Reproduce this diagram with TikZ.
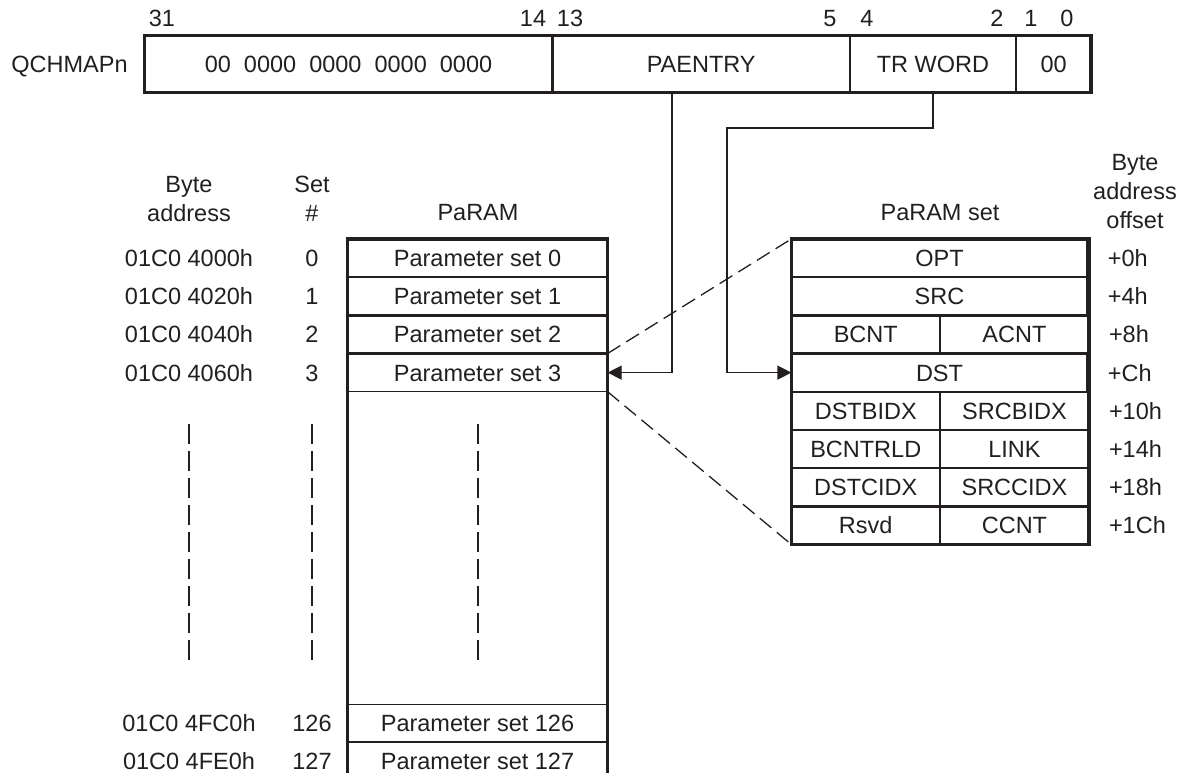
\documentclass[tikz,border=0pt]{standalone}
\usepackage{fontspec}
\setmainfont{Liberation Sans}
\usepackage{xcolor}
\definecolor{ink}{RGB}{35,31,32}
\usepackage{tikz}
\usetikzlibrary{positioning,arrows.meta}

\begin{document}
\begin{tikzpicture}[x=1pt, y=-1pt, ink,
  lbl/.style={font=\fontsize{23.5pt}{29pt}\selectfont, inner sep=0pt, text height=16.8pt, text depth=0pt},
  head/.style={font=\fontsize{23.5pt}{29pt}\selectfont, inner sep=0pt, align=center, anchor=south},
  cell/.style={lbl, draw, line width=1.2pt, minimum height=37pt},
  border/.style={line width=3.5pt},
  conn/.style={line width=1.2pt, -{Triangle[length=14pt, width=14pt]}},
  dashline/.style={line width=1.3pt, dash pattern=on 15pt off 7pt},
  vdash/.style={line width=1.5pt, dash pattern=on 20pt off 7pt}]
\useasboundingbox (0,0) rectangle (1183,772);

% register
\node[lbl] (qname) at (69.5,64) {QCHMAPn};
\node[cell, minimum width=407pt, minimum height=56pt] (zeros) at (348.5,64) {00\ \ 0000\ \ 0000\ \ 0000\ \ 0000};
\node[cell, minimum width=296pt, minimum height=56pt, right=0pt of zeros] (paentry) {PAENTRY};
\node[cell, minimum width=165pt, minimum height=56pt, right=0pt of paentry] (trword) {TR WORD};
\node[cell, minimum width=74pt, minimum height=56pt, right=0pt of trword] (low) {00};
\draw[border] (zeros.north west) rectangle (low.south east);

\node[head] (b31) at (162,26.5) {31};
\node[head] (b14) at (533,26.5) {14};
\node[head] (b13) at (570,26.5) {13};
\node[head] (b5) at (830,26.5) {5};
\node[head] (b4) at (867,26.5) {4};
\node[head] (b2) at (997,26.5) {2};
\node[head] (b1) at (1031,26.5) {1};
\node[head] (b0) at (1067,26.5) {0};

% PaRAM
\node[head] (hbyte) at (189,221.5) {Byte\\address};
\node[head] (hset) at (312,221.5) {Set\\\#};
\node[head] (hparam) at (478,220.5) {PaRAM};

\node[cell, minimum width=259pt] (ps0) at (477.5,258) {Parameter set 0};
\node[cell, minimum width=259pt, below=0pt of ps0] (ps1) {Parameter set 1};
\node[cell, minimum width=259pt, below=0pt of ps1] (ps2) {Parameter set 2};
\node[cell, minimum width=259pt, below=0pt of ps2] (ps3) {Parameter set 3};
\node[cell, minimum width=259pt] (ps126) at (477.5,723) {Parameter set 126};
\node[cell, minimum width=259pt, below=0pt of ps126] (ps127) {Parameter set 127};
\draw[border] (ps127.south west) |- (ps0.north east) -- (ps127.south east);

\node[lbl] (a0) at (189,0 |- ps0) {01C0 4000h};
\node[lbl] (a1) at (189,0 |- ps1) {01C0 4020h};
\node[lbl] (a2) at (189,0 |- ps2) {01C0 4040h};
\node[lbl] (a3) at (189,0 |- ps3) {01C0 4060h};
\node[lbl] (a126) at (189,0 |- ps126) {01C0 4FC0h};
\node[lbl] (a127) at (189,0 |- ps127) {01C0 4FE0h};
\node[lbl] (n0) at (312,0 |- ps0) {0};
\node[lbl] (n1) at (312,0 |- ps1) {1};
\node[lbl] (n2) at (312,0 |- ps2) {2};
\node[lbl] (n3) at (312,0 |- ps3) {3};
\node[lbl] (n126) at (312,0 |- ps126) {126};
\node[lbl] (n127) at (312,0 |- ps127) {127};

\foreach \x in {189,312,478}
  \draw[vdash] (\x,424) -- (\x,660);

% PaRAM set
\node[head] (hpset) at (940,220.5) {PaRAM set};
\node[head] (hoff) at (1135,228.5) {Byte\\address\\offset};

\node[cell, minimum width=295pt] (opt) at (939.5,258) {OPT};
\node[cell, minimum width=295pt, below=0pt of opt] (src) {SRC};
\node[cell, minimum width=147.5pt, anchor=north west] (bcnt) at (src.south west) {BCNT};
\node[cell, minimum width=147.5pt, right=0pt of bcnt] (acnt) {ACNT};
\node[cell, minimum width=295pt, anchor=north west] (dst) at (bcnt.south west) {DST};
\node[cell, minimum width=147.5pt, anchor=north west] (dstbidx) at (dst.south west) {DSTBIDX};
\node[cell, minimum width=147.5pt, right=0pt of dstbidx] (srcbidx) {SRCBIDX};
\node[cell, minimum width=147.5pt, below=0pt of dstbidx] (bcntrld) {BCNTRLD};
\node[cell, minimum width=147.5pt, right=0pt of bcntrld] (link) {LINK};
\node[cell, minimum width=147.5pt, below=0pt of bcntrld] (dstcidx) {DSTCIDX};
\node[cell, minimum width=147.5pt, right=0pt of dstcidx] (srccidx) {SRCCIDX};
\node[cell, minimum width=147.5pt, below=0pt of dstcidx] (rsvd) {Rsvd};
\node[cell, minimum width=147.5pt, right=0pt of rsvd] (ccnt) {CCNT};
\draw[border] (opt.north west) rectangle (ccnt.south east);

\node[lbl, right=20pt of opt] (o0) {+0h};
\node[lbl, right=20pt of src] (o4) {+4h};
\node[lbl, right=20pt of acnt] (o8) {+8h};
\node[lbl, right=20pt of dst] (oc) {+Ch};
\node[lbl, right=20pt of srcbidx] (o10) {+10h};
\node[lbl, right=20pt of link] (o14) {+14h};
\node[lbl, right=20pt of srccidx] (o18) {+18h};
\node[lbl, right=20pt of ccnt] (o1c) {+1Ch};

\draw[dashline] (ps3.north east) -- (opt.north west);
\draw[dashline] (ps3.south east) -- (rsvd.south west);

% pointers
\coordinate (pafrom) at (672,0 |- paentry.south);
\coordinate (trbend) at (727,128);
\draw[conn] (pafrom) |- (ps3.east);
\draw[conn] (trword.south) |- (trbend) |- (dst.west);

\end{tikzpicture}
\end{document}
